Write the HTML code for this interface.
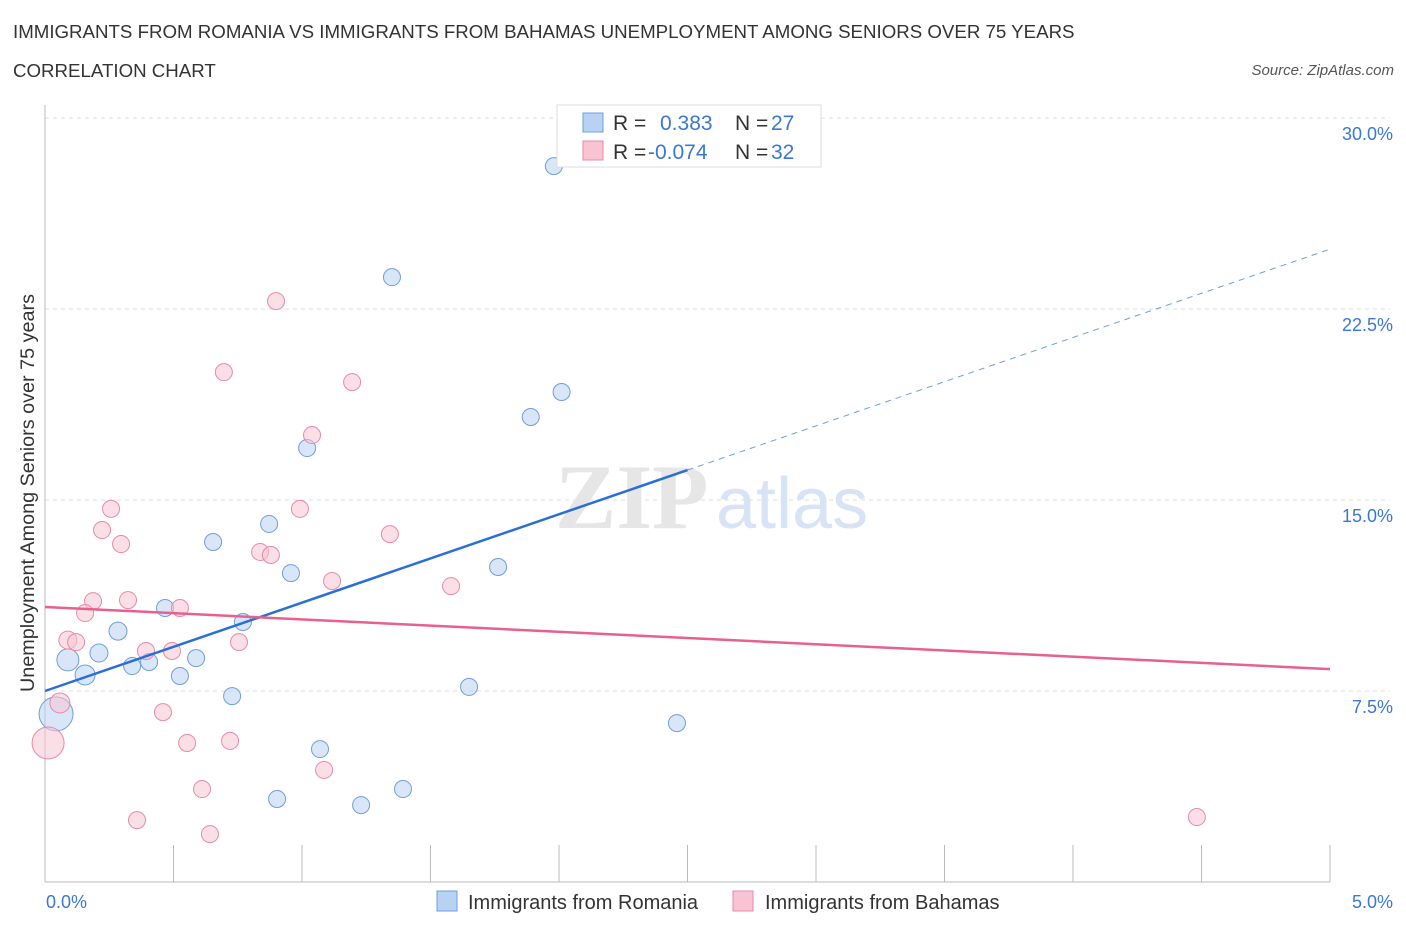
<!DOCTYPE html>
<html><head><meta charset="utf-8">
<style>
body{margin:0;background:#fff;font-family:"Liberation Sans",sans-serif;}
#wrap{position:relative;width:1406px;height:930px;overflow:hidden;}
.t{position:absolute;white-space:nowrap;}
</style></head>
<body>
<div id="wrap">
<div class="t" style="left:13px;top:21px;font-size:18.7px;color:#333;">IMMIGRANTS FROM ROMANIA VS IMMIGRANTS FROM BAHAMAS UNEMPLOYMENT AMONG SENIORS OVER 75 YEARS</div>
<div class="t" style="left:13px;top:60px;font-size:18.7px;color:#333;">CORRELATION CHART</div>
<div class="t" style="right:12px;top:62px;font-size:15px;color:#555;font-style:italic;">Source: ZipAtlas.com</div>
<svg id="chart" width="1406" height="930" style="position:absolute;left:0;top:0"></svg>
</div>
<script>
const blueX=[1.98,1.35,2.01,1.89,1.02,0.654,0.872,0.957,1.763,0.467,0.770,0.284,0.210,0.089,0.156,0.339,0.405,0.588,0.525,0.728,1.650,0.043,2.459,1.070,0.903,1.230,1.393];
const blueY=[28.11,23.75,19.24,18.26,17.04,13.35,14.06,12.13,12.37,10.76,10.21,9.85,8.99,8.72,8.13,8.48,8.64,8.79,8.09,7.30,7.66,6.60,6.24,5.22,3.26,3.02,3.65];
const blueR=[8.5,8.5,8.5,8.5,8.5,8.5,8.5,8.5,8.5,8.5,8.5,9,9,11,10,8.5,8.5,8.5,8.5,8.5,8.5,17,8.5,8.5,8.5,8.5,8.5];
const pinkX=[0.899,0.696,1.195,1.039,0.992,0.257,0.222,0.296,1.342,0.837,0.879,1.117,1.580,0.187,0.323,0.525,0.156,0.089,0.121,0.393,0.494,0.755,0.058,0.459,0.553,0.720,0.012,1.086,0.611,0.358,0.642,4.482];
const pinkY=[22.81,20.02,19.63,17.55,14.65,14.65,13.82,13.27,13.66,12.96,12.84,11.82,11.62,11.03,11.07,10.76,10.56,9.50,9.42,9.07,9.07,9.42,7.03,6.67,5.46,5.54,5.46,4.40,3.65,2.43,1.88,2.55];
const pinkR=[8.5,8.5,8.5,8.5,8.5,8.5,8.5,8.5,8.5,8.5,8.5,8.5,8.5,8.5,8.5,8.5,8.5,9,8.5,8.5,8.5,8.5,10,8.5,8.5,8.5,16,8.5,8.5,8.5,8.5,8.5];
const blueLine=[7.50,3.47]; // intercept, slope
const pinkLine=[10.80,-0.488];
const yTicks=[7.5,15,22.5,30];
const yTickLabels=["7.5%","15.0%","22.5%","30.0%"];
const xTicks=[0,0.5,1,1.5,2,2.5,3,3.5,4,4.5,5];

const X0=45,X1=1330,Y0=882,Y1=118;
const sx=v=>X0+(v/5)*(X1-X0);
const sy=v=>Y0-(v/30)*(Y0-Y1);
const svg=document.getElementById('chart');
const NS='http://www.w3.org/2000/svg';
function mk(tag,attrs){const e=document.createElementNS(NS,tag);for(const k in attrs)e.setAttribute(k,attrs[k]);svg.appendChild(e);return e;}

yTicks.forEach((v,i)=>{
 const g=mk('line',{x1:X0,x2:X1+60,y1:sy(v),y2:sy(v),stroke:'#ddd','stroke-dasharray':'4,4'});
 
 
 const t=mk('text',{x:1393,y:sy(v)+22,'text-anchor':'end','font-size':18,fill:'#3a78d4'});
 t.textContent=yTickLabels[i];
 
 
});
let a=mk('line',{x1:X0,x2:X0,y1:105,y2:Y0,stroke:'#bbb'});


a=mk('line',{x1:X0,x2:X1,y1:Y0,y2:Y0,stroke:'#bbb'});


xTicks.forEach(v=>{
 const t=mk('line',{x1:sx(v),x2:sx(v),y1:845,y2:Y0,stroke:'#bbb'});
 
 
});
let w=mk('text',{x:555,y:528,'font-size':92,fill:'#e6e6e6','font-family':'Liberation Serif',"font-weight":"bold"});
w.textContent='ZIP';


w=mk('text',{x:716,y:528,'font-size':72,fill:'#d6e4f5'});
w.textContent='atlas';



function pts(xs,ys,rs,fill,stroke,name){
 xs.forEach((x,i)=>{
  const c=mk('circle',{cx:sx(x),cy:sy(ys[i]),r:rs[i],fill:fill,stroke:stroke,'stroke-width':1,'fill-opacity':0.55});
  
  
 });
}
pts(blueX,blueY,blueR,'#b8d2f3','#6f9fdc','romania-point');
pts(pinkX,pinkY,pinkR,'#f8c4d4','#e88aa8','bahamas-point');

let l=mk('line',{x1:sx(0),y1:sy(blueLine[0]),x2:sx(2.5),y2:sy(blueLine[0]+blueLine[1]*2.5),stroke:'#2a6fd6','stroke-width':2.5});


l=mk('line',{x1:sx(2.5),y1:sy(blueLine[0]+blueLine[1]*2.5),x2:sx(5),y2:sy(blueLine[0]+blueLine[1]*5),stroke:'#6f9fdc','stroke-width':1,'stroke-dasharray':'6,5'});


l=mk('line',{x1:sx(0),y1:sy(pinkLine[0]),x2:sx(5),y2:sy(pinkLine[0]+pinkLine[1]*5),stroke:'#e8608e','stroke-width':2.5});



let t=mk('text',{x:46,y:908,'font-size':18,fill:'#3a78d4'});t.textContent='0.0%';


t=mk('text',{x:1393,y:908,'text-anchor':'end','font-size':18,fill:'#3a78d4'});t.textContent='5.0%';


t=mk('text',{x:0,y:0,'font-size':19.8,fill:'#333','text-anchor':'middle',transform:'translate(34,493) rotate(-90)'});t.textContent='Unemployment Among Seniors over 75 years';



let r=mk('rect',{x:557,y:105,width:264,height:62,fill:'#fff',stroke:'#ddd'});


r=mk('rect',{x:583,y:113,width:20,height:19,fill:'#b8d2f3',stroke:'#6f9fdc'});


r=mk('rect',{x:583,y:141,width:20,height:19,fill:'#f8c4d4',stroke:'#e88aa8'});


function st(x,y,txt,fill,name){const e=mk('text',{x:x,y:y,'font-size':21,fill:fill});e.textContent=txt;
 
 }
st(613,130,'R =','#333','stats-r-label');st(660,130,'0.383','#3a78d4','stats-r-romania');
st(735,130,'N =','#333','stats-n-label');st(771,130,'27','#3a78d4','stats-n-romania');
st(613,159,'R =','#333','stats-r-label');st(648,159,'-0.074','#3a78d4','stats-r-bahamas');
st(735,159,'N =','#333','stats-n-label');st(771,159,'32','#3a78d4','stats-n-bahamas');

r=mk('rect',{x:437,y:891,width:20,height:20,fill:'#b8d2f3',stroke:'#6f9fdc'});


r=mk('rect',{x:733,y:891,width:20,height:20,fill:'#f8c4d4',stroke:'#e88aa8'});


t=mk('text',{x:468,y:909,'font-size':20,fill:'#333'});t.textContent='Immigrants from Romania';


t=mk('text',{x:765,y:909,'font-size':20,fill:'#333'});t.textContent='Immigrants from Bahamas';


</script>
</body></html>
